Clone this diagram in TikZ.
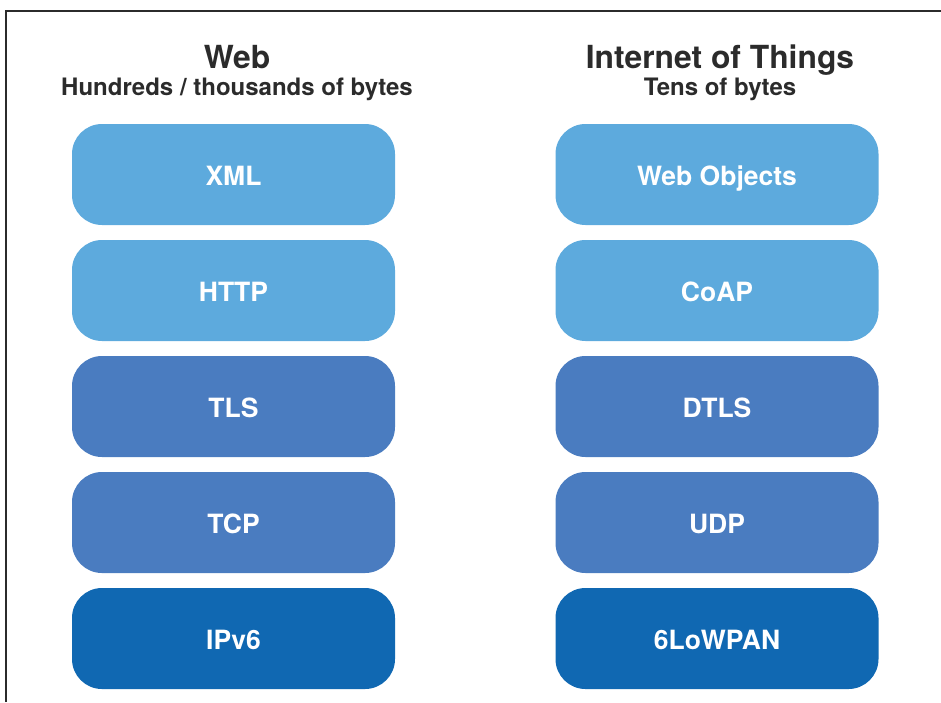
\documentclass[tikz,border=0pt]{standalone}
\usepackage{fontspec}
\setmainfont{TeX Gyre Heros}
\definecolor{lightblue}{HTML}{5DAADD}
\definecolor{midblue}{HTML}{4A7CC0}
\definecolor{darkblue}{HTML}{1068B2}
\definecolor{framegray}{HTML}{2B2B2B}
\begin{document}
\begin{tikzpicture}[x=1pt,y=-1pt,
  layer/.style={rounded corners=30pt, minimum width=323pt, minimum height=101pt,
    inner sep=0pt, text=white, text height=22pt, text depth=0pt,
    font=\bfseries\fontsize{26.5}{30}\selectfont},
  title/.style={text=framegray, anchor=base, font=\bfseries\fontsize{31.8}{36}\selectfont, inner sep=0pt},
  subtitle/.style={text=framegray, anchor=base, font=\bfseries\fontsize{24}{28}\selectfont, inner sep=0pt}]
\useasboundingbox (0,0) rectangle (941,702);
% open frame: top and left edges only
\draw[framegray, line width=2pt] (6,702) -- (6,11) -- (941,11);

% column headings
\node[title] (webT) at (237,68) {Web};
\node[subtitle] (webS) at (237,95) {Hundreds / thousands of bytes};
\node[title] (iotT) at (720,68) {Internet of Things};
\node[subtitle] (iotS) at (720,95) {Tens of bytes};

% Web stack
\node[layer, fill=lightblue] (xml)  at (233.5,174.5) {XML};
\node[layer, fill=lightblue] (http) at (233.5,290.5) {HTTP};
\node[layer, fill=midblue]   (tls)  at (233.5,406.5) {TLS};
\node[layer, fill=midblue]   (tcp)  at (233.5,522.5) {TCP};
\node[layer, fill=darkblue]  (ipv6) at (233.5,638.5) {IPv6};

% IoT stack
\node[layer, fill=lightblue] (wobj) at (717,174.5) {Web Objects};
\node[layer, fill=lightblue] (coap) at (717,290.5) {CoAP};
\node[layer, fill=midblue]   (dtls) at (717,406.5) {DTLS};
\node[layer, fill=midblue]   (udp)  at (717,522.5) {UDP};
\node[layer, fill=darkblue]  (lowpan) at (717,638.5) {6LoWPAN};
\end{tikzpicture}
\end{document}
